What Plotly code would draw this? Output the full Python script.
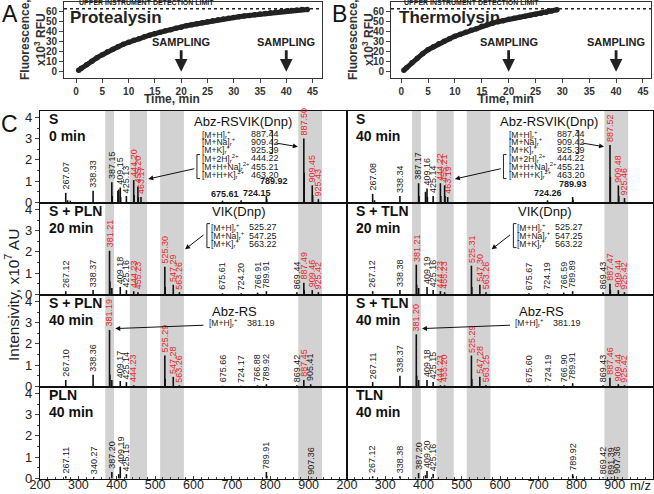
import plotly.graph_objects as go

W, H = 654, 494

# ---------------- Panel A / B data (kinetics) ----------------
ptl_time = [0.5, 1, 2, 3, 4, 5, 6, 7, 8, 9, 10, 11, 12, 13, 14, 15, 16, 17, 18, 19, 20,
            21, 22, 23, 24, 25, 26, 27, 28, 29, 30, 31, 32, 33, 34, 35, 36, 37, 38, 39, 40,
            41, 42, 43, 44]
ptl_rfu = [1.5, 3.5, 7, 10.5, 14, 17, 20, 22.5, 25, 27.5, 29.5, 31.5, 33, 35, 36.5, 38, 39.5,
           41, 42, 43.5, 44.5, 46, 47, 48, 49, 50, 51, 52, 52.8, 53.5, 54.2, 55, 55.7, 56.3,
           57, 57.6, 58.3, 59, 59.6, 60.2, 60.8, 61.3, 61.8, 62.1, 62.3]
tln_time = [0.5, 1, 2, 3, 4, 5, 6, 7, 8, 9, 10, 11, 12, 13, 14, 15, 16, 17, 18, 19, 20,
            21, 22, 23, 24, 25, 26, 27, 28, 29]
tln_rfu = [1.5, 4, 9, 13.5, 18, 22, 25, 28, 30.5, 33, 35.5, 37.5, 39.5, 41.5, 43, 45.5, 47,
           48.5, 50, 51, 52.5, 53.5, 54.5, 55.5, 56.5, 57.5, 58.5, 59.5, 60.8, 62]
sampling_min = [20, 40]
detection_limit = 63
time_ticks = [0, 5, 10, 15, 20, 25, 30, 35, 40, 45]
rfu_ticks = [0, 10, 20, 30, 40, 50, 60]

# ---------------- Panel C data (mass spectra) ----------------
bands = [(370, 393), (434, 479), (513, 575), (873, 935)]
mz_ticks = [200, 300, 400, 500, 600, 700, 800, 900]
int_ticks = [0, 1, 2, 3, 4]

s0_mz = [267.07, 338.33, 387.15, 409.15, 425.13, 444.20, 455.20, 463.17, 675.61, 724.15, 789.92, 887.50, 909.45, 925.43]
s0_int = [0.45, 0.55, 0.95, 0.7, 0.3, 1.05, 0.75, 0.25, 0.08, 0.1, 0.3, 3.0, 0.8, 0.15]
s0_minor_mz = [272, 279, 388.2, 403, 405.2, 410.2, 445.2, 456.2, 790.9, 888.5, 910.5]
s0_minor_int = [0.1, 0.08, 0.3, 0.55, 0.6, 0.25, 0.35, 0.25, 0.15, 1.4, 0.35]

s40_mz = [267.08, 338.34, 387.17, 409.16, 425.14, 444.22, 455.21, 463.19, 724.26, 789.93, 887.52, 909.48, 925.46]
s40_int = [0.4, 0.3, 0.9, 0.65, 0.3, 0.9, 0.8, 0.25, 0.1, 0.25, 2.7, 0.8, 0.2]
s40_minor_mz = [272, 388.2, 405.2, 410.2, 445.2, 456.2, 790.9, 888.5, 910.5]
s40_minor_int = [0.1, 0.3, 0.5, 0.25, 0.3, 0.3, 0.12, 1.2, 0.3]

pln20_mz = [267.12, 338.37, 381.21, 409.18, 425.16, 444.23, 455.23, 525.30, 547.29, 563.26, 675.61, 724.20, 766.91, 789.91, 869.44, 887.49, 909.46, 925.42]
pln20_int = [0.15, 0.2, 2.05, 0.35, 0.2, 0.15, 0.1, 1.3, 0.45, 0.1, 0.05, 0.05, 0.08, 0.15, 0.1, 0.55, 0.2, 0.1]
pln20_minor_mz = [382.2, 387.2, 526.3, 888.5]
pln20_minor_int = [0.6, 0.3, 0.35, 0.2]

tln20_mz = [267.12, 338.38, 381.21, 409.19, 425.16, 444.23, 455.23, 525.31, 547.30, 563.26, 675.67, 724.19, 766.59, 789.89, 869.43, 887.47, 909.44, 925.42]
tln20_int = [0.15, 0.2, 1.4, 0.35, 0.2, 0.15, 0.1, 1.35, 0.45, 0.1, 0.05, 0.05, 0.08, 0.15, 0.1, 0.5, 0.2, 0.1]
tln20_minor_mz = [382.2, 387.2, 526.3, 888.5]
tln20_minor_int = [0.45, 0.3, 0.35, 0.2]

pln40_mz = [267.10, 338.36, 381.19, 409.17, 425.14, 444.23, 525.29, 547.28, 563.26, 675.66, 724.17, 766.88, 789.92, 869.42, 887.45, 905.41]
pln40_int = [0.3, 0.55, 2.65, 0.25, 0.2, 0.05, 1.45, 0.45, 0.05, 0.03, 0.03, 0.05, 0.1, 0.05, 0.3, 0.1]
pln40_minor_mz = [382.2, 387.2, 526.3]
pln40_minor_int = [0.55, 0.3, 0.35]

tln40_mz = [267.11, 338.37, 381.20, 409.18, 425.15, 444.23, 455.20, 525.29, 547.28, 563.25, 675.60, 724.19, 766.90, 789.91, 869.43, 887.46, 909.44, 925.42]
tln40_int = [0.2, 0.5, 2.45, 0.3, 0.2, 0.05, 0.05, 1.45, 0.45, 0.05, 0.03, 0.03, 0.05, 0.15, 0.05, 0.4, 0.1, 0.05]
tln40_minor_mz = [382.2, 387.2, 526.3]
tln40_minor_int = [0.5, 0.3, 0.35]

pln_mz = [267.11, 340.27, 387.20, 409.19, 425.15, 789.91, 907.36]
pln_int = [0.1, 0.05, 0.3, 0.55, 0.2, 0.3, 0.05]
pln_minor_mz = [405.2, 790.9]
pln_minor_int = [0.2, 0.12]

tln_mz = [267.12, 338.38, 387.20, 409.20, 425.16, 789.92, 869.42, 891.39, 907.36]
tln_int = [0.1, 0.1, 0.25, 0.35, 0.2, 0.2, 0.05, 0.05, 0.05]
tln_minor_mz = [405.2, 790.9]
tln_minor_int = [0.15, 0.1]

panel_titles = [("S", "0 min"), ("S", "40 min"), ("S + PLN", "20 min"), ("S + TLN", "20 min"),
                ("S + PLN", "40 min"), ("S + TLN", "40 min"), ("PLN", "40 min"), ("TLN", "40 min")]
panel_peaks = [(s0_mz, s0_int, s0_minor_mz, s0_minor_int), (s40_mz, s40_int, s40_minor_mz, s40_minor_int),
               (pln20_mz, pln20_int, pln20_minor_mz, pln20_minor_int), (tln20_mz, tln20_int, tln20_minor_mz, tln20_minor_int),
               (pln40_mz, pln40_int, pln40_minor_mz, pln40_minor_int), (tln40_mz, tln40_int, tln40_minor_mz, tln40_minor_int),
               (pln_mz, pln_int, pln_minor_mz, pln_minor_int), (tln_mz, tln_int, tln_minor_mz, tln_minor_int)]

substrate_name = "Abz-RSVIK(Dnp)"
substrate_ions = ["[M+H]<sub>r</sub><sup>+</sup>", "[M+Na]<sub>r</sub><sup>+</sup>", "[M+K]<sub>r</sub><sup>+</sup>",
                  "[M+2H]<sub>r</sub><sup>2+</sup>", "[M+H+Na]<sub>r</sub><sup>2+</sup>", "[M+H+K]<sub>r</sub><sup>2+</sup>"]
substrate_mz = ["887.44", "909.42", "925.39", "444.22", "455.21", "463.20"]
vik_name = "VIK(Dnp)"
vik_ions = ["[M+H]<sub>r</sub><sup>+</sup>", "[M+Na]<sub>r</sub><sup>+</sup>", "[M+K]<sub>r</sub><sup>+</sup>"]
vik_mz = ["525.27", "547.25", "563.22"]
rs_name = "Abz-RS"
rs_ions = ["[M+H]<sub>r</sub><sup>+</sup>"]
rs_mz = ["381.19"]

# ---------------- helpers ----------------
FONT = "Arial, Liberation Sans, sans-serif"
RED = "#e8262a"
INK = "#1a1a1a"
assigned_ions = [float(v) for v in substrate_mz + vik_mz + rs_mz]


def px(x):
    return x / W


def py(y):
    return 1 - y / H


def paper_text(x, y, text, size, bold=False, angle=0, xanchor="center", color="#222"):
    f = dict(family=FONT, size=size, color=color)
    if bold:
        f["weight"] = "bold"
    return dict(xref="paper", yref="paper", x=px(x), y=py(y), text=text, showarrow=False, textangle=angle,
                xanchor=xanchor, yanchor="middle", font=f)


fig = go.Figure()
annotations = []
shapes = []

# ---------------- Panels A and B ----------------
ab_y = [py(78), py(2)]
ab_x = {1: [px(64), px(322)], 2: [px(391), px(651)]}
ab_range = {1: [-2.3, 46.8], 2: [-1.9, 46.5]}
curves = {1: (ptl_time, ptl_rfu), 2: (tln_time, tln_rfu)}
names = {1: "Protealysin", 2: "Thermolysin"}
name_x = {1: -1.5, 2: -0.8}

for k in (1, 2):
    xa = "x" if k == 1 else "x2"
    ya = "y" if k == 1 else "y2"
    t, v = curves[k]
    fig.add_trace(go.Scatter(x=t, y=v, mode="lines+markers", xaxis=xa, yaxis=ya,
                             line=dict(color="#222", width=5), marker=dict(size=5.5, color="#222"),
                             showlegend=False, hoverinfo="skip"))
    axkey = "xaxis" if k == 1 else "xaxis2"
    aykey = "yaxis" if k == 1 else "yaxis2"
    fig.update_layout(**{
        axkey: dict(domain=ab_x[k], range=ab_range[k], tickvals=time_ticks, ticks="outside", ticklen=4,
                    showline=True, linecolor="#333", linewidth=1, mirror=True, showgrid=False, zeroline=False,
                    tickfont=dict(family=FONT, size=10, color="#333", weight="bold"), anchor=ya),
        aykey: dict(domain=ab_y, range=[-6.3, 69.7], tickvals=rfu_ticks, ticks="outside", ticklen=4,
                    showline=True, linecolor="#333", linewidth=1, mirror=True, showgrid=False, zeroline=False,
                    tickfont=dict(family=FONT, size=10, color="#333", weight="bold"), anchor=xa),
    })
    shapes.append(dict(type="line", xref=xa, yref=ya, x0=ab_range[k][0], x1=ab_range[k][1],
                       y0=detection_limit, y1=detection_limit, line=dict(color="#222", width=1.5, dash="dot")))
    annotations.append(dict(xref=xa, yref=ya, x=0.2, y=detection_limit + 0.5, text="UPPER INSTRUMENT DETECTION LIMIT",
                            showarrow=False, xanchor="left", yanchor="bottom",
                            font=dict(family=FONT, size=7, color="#222", weight="bold")))
    annotations.append(dict(xref=xa, yref=ya, x=name_x[k], y=54, text=names[k], showarrow=False,
                            xanchor="left", yanchor="middle", font=dict(family=FONT, size=17, color="#222", weight="bold")))
    for s in sampling_min:
        annotations.append(dict(xref=xa, yref=ya, x=s, y=30, text="SAMPLING", showarrow=False,
                                xanchor="center", yanchor="middle",
                                font=dict(family=FONT, size=11, color="#222", weight="bold")))
        annotations.append(dict(xref=xa, yref=ya, x=s, y=0, ax=s, ay=23, axref=xa, ayref=ya, text="",
                                showarrow=True, arrowhead=2, arrowsize=0.9, arrowwidth=2.8, arrowcolor="#222"))

annotations.append(paper_text(172, 99, "Time, min", 12, bold=True, color="#333"))
annotations.append(paper_text(506, 99, "Time, min", 12, bold=True, color="#333"))
for cx in (33, 361):
    annotations.append(paper_text(cx, 40, "Fluorescence,<br>x10<sup>3</sup> RFU", 12, bold=True, angle=-90, color="#333"))
for lt, lx, ly in (("A", 10, 14), ("B", 339, 14), ("C", 9, 124)):
    annotations.append(paper_text(lx, ly, lt, 23, color="#111"))

# ---------------- Panel C ----------------
col_x = [[px(40), px(347)], [px(347), px(653)]]
row_bottom = [203, 295, 387, 479]
YR = [-0.03, 4.3]
h_nudge = {675.61: (2, 0), 724.15: (16, 0), 789.92: (8, 8), 724.26: (0, 0), 789.93: (0, 6)}


def is_assigned(m):
    return any(abs(m - a) < 0.2 for a in assigned_ions)


for i, (title, (mz, inten, mmz, mint)) in enumerate(zip(panel_titles, panel_peaks)):
    r, c = divmod(i, 2)
    n = 3 + i
    xa, ya = f"x{n}", f"y{n}"
    bottom = row_bottom[r]
    top = bottom - 92
    for a, b in bands:
        shapes.append(dict(type="rect", xref=xa, yref=f"{ya} domain", x0=a, x1=b, y0=0, y1=1,
                           fillcolor="#d2d2d2", line=dict(width=0), layer="below"))
    xs, ys = [], []
    for m, h in list(zip(mz, inten)) + list(zip(mmz, mint)):
        xs += [m, m, None]
        ys += [0, h, None]
    fig.add_trace(go.Scatter(x=xs, y=ys, mode="lines", xaxis=xa, yaxis=ya, line=dict(color="#111", width=1.6),
                             showlegend=False, hoverinfo="skip"))
    for m, h in zip(mz, inten):
        col = RED if is_assigned(m) else INK
        if r == 0 and 600 < m < 850:
            dx, dy = h_nudge.get(m, (0, 0))
            annotations.append(dict(xref=xa, yref=ya, x=m, y=h, text=f"{m:.2f}", showarrow=False,
                                    xanchor="center", yanchor="bottom", xshift=dx, yshift=dy,
                                    font=dict(family=FONT, size=9, color=col, weight="bold")))
        else:
            annotations.append(dict(xref=xa, yref=ya, x=m, y=h, text=f"{m:.2f}", showarrow=False, textangle=-90,
                                    xanchor="center", yanchor="bottom", yshift=1,
                                    font=dict(family=FONT, size=9, color=col)))
    x_left = col_x[c][0] * W + 7
    annotations.append(paper_text(x_left, top + 8, title[0], 14, bold=True, xanchor="left", color="#111"))
    annotations.append(paper_text(x_left, top + 24.5, title[1], 14, bold=True, xanchor="left", color="#111"))
    bottom_row = (r == 3)
    fig.update_layout(**{
        f"xaxis{n}": dict(domain=col_x[c], range=[200, 1000], anchor=ya, showgrid=False, zeroline=False,
                          showline=True, linecolor="#111", linewidth=1.2, mirror=True,
                          tickvals=mz_ticks if bottom_row else [], ticks="inside" if bottom_row else "",
                          ticklen=3, showticklabels=bottom_row, ticklabelstandoff=-6,
                          minor=dict(dtick=20, ticklen=2, ticks="inside" if bottom_row else "", tick0=200),
                          tickfont=dict(family=FONT, size=12.5, color="#222")),
        f"yaxis{n}": dict(domain=[py(bottom), py(top)], range=YR, anchor=xa, showgrid=False, zeroline=False,
                          showline=True, linecolor="#111", linewidth=1.2, mirror=True,
                          tickvals=int_ticks if c == 0 else [], ticks="outside" if c == 0 else "", ticklen=4,
                          showticklabels=(c == 0),
                          minor=dict(dtick=0.5, ticklen=2, ticks="outside" if c == 0 else ""),
                          tickfont=dict(family=FONT, size=13, color="#222")),
    })


def table(n, name, name_x, name_y, ions, values, x_lab, x_val, y_rows):
    xa, ya = f"x{n}", f"y{n}"
    annotations.append(dict(xref=xa, yref=ya, x=name_x, y=name_y, text=name, showarrow=False,
                            xanchor="center", yanchor="middle", font=dict(family=FONT, size=13, color="#111")))
    for ion, val, yy in zip(ions, values, y_rows):
        annotations.append(dict(xref=xa, yref=ya, x=x_lab, y=yy, text=ion, showarrow=False, xanchor="left",
                                yanchor="middle", font=dict(family=FONT, size=8.5, color="#222")))
        annotations.append(dict(xref=xa, yref=ya, x=x_val, y=yy, text=val, showarrow=False, xanchor="left",
                                yanchor="middle", font=dict(family=FONT, size=9, color="#222")))


def bracket(n, x, y0, y1, tick):
    xa, ya = f"x{n}", f"y{n}"
    shapes.append(dict(type="path", xref=xa, yref=ya,
                       path=f"M {x + tick},{y0} L {x},{y0} L {x},{y1} L {x + tick},{y1}",
                       line=dict(color="#222", width=1)))


def arrow(n, x0, y0, x1, y1):
    xa, ya = f"x{n}", f"y{n}"
    annotations.append(dict(xref=xa, yref=ya, axref=xa, ayref=ya, x=x1, y=y1, ax=x0, ay=y0, text="",
                            showarrow=True, arrowhead=2, arrowsize=1, arrowwidth=1, arrowcolor="#111"))


sub_rows = [3.2, 2.85, 2.47, 2.07, 1.68, 1.3]
for n in (3, 4):
    table(n, substrate_name, 729, 3.82, substrate_ions, substrate_mz, 617, 744, sub_rows)
    bracket(n, 806, 3.38, 2.3, -8)
    bracket(n, 609, 2.25, 1.12, 8)
    arrow(n, 812, 2.8, 872, 2.62)
    arrow(n, 606, 1.6, 482, 1.1)

vik_rows = [3.15, 2.77, 2.39]
for n in (5, 6):
    table(n, vik_name, 716, 3.9, vik_ions, vik_mz, 640, 739, vik_rows)
    bracket(n, 635, 3.33, 2.2, 8)
    arrow(n, 630, 2.85, 578, 2.12)

for n in (7, 8):
    table(n, rs_name, 708, 3.52, rs_ions, rs_mz, 635, 734, [3.0])
    arrow(n, 630, 2.88, 396, 2.72)

annotations.append(paper_text(12, 295, "Intensivity, x10<sup>7</sup> AU", 15.5, angle=-90))
annotations.append(paper_text(640, 485, "m/z", 13))

fig.update_xaxes(automargin=False)
fig.update_yaxes(automargin=False)
fig.update_layout(width=W, height=H, margin=dict(l=0, r=0, t=0, b=0, autoexpand=False), plot_bgcolor="white",
                  paper_bgcolor="white", annotations=annotations, shapes=shapes, showlegend=False)
fig.write_html("out.html", config={"displayModeBar": False},
               post_script="document.body.style.margin='0';document.body.style.overflow='hidden';")
